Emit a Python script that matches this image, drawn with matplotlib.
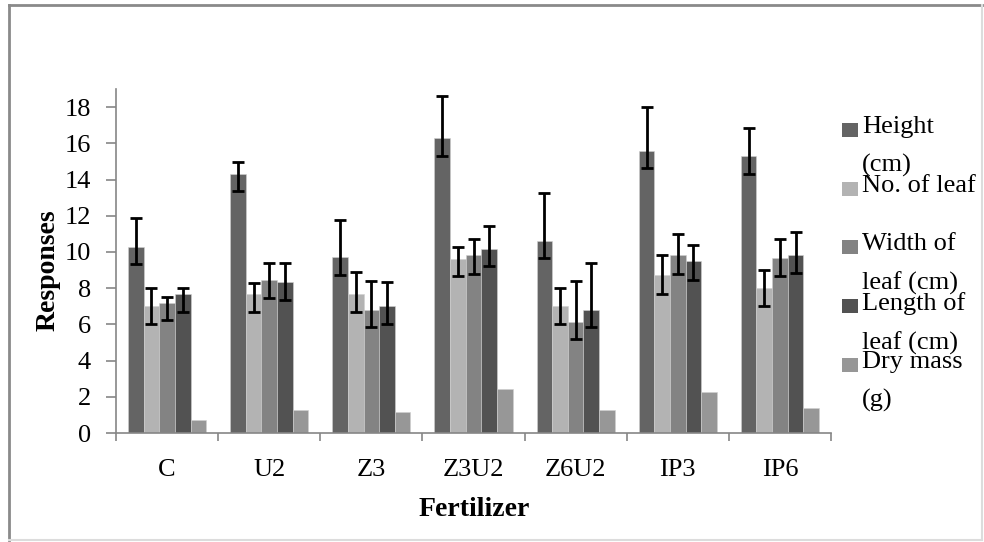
import matplotlib
matplotlib.use("Agg")
import matplotlib.pyplot as plt
from matplotlib.patches import Rectangle
from matplotlib.lines import Line2D
import numpy as np

plt.rcParams['font.family'] = ['Liberation Serif', 'DejaVu Serif']

fertilizers = ['C', 'U2', 'Z3', 'Z3U2', 'Z6U2', 'IP3', 'IP6']
series = ['Height\n(cm)', 'No. of leaf', 'Width of\nleaf (cm)', 'Length of\nleaf (cm)', 'Dry mass\n(g)']
colors = ['#646464', '#b3b3b3', '#838383', '#525252', '#979797']

# bar heights
height = [10.3, 14.3, 9.7, 16.3, 10.6, 15.6, 15.3]
leaves = [7.0, 7.7, 7.7, 9.6, 7.0, 8.7, 8.0]
width = [7.2, 8.45, 6.8, 9.85, 6.15, 9.85, 9.65]
length = [7.67, 8.33, 7.0, 10.17, 6.8, 9.5, 9.85]
dry = [0.74, 1.27, 1.16, 2.45, 1.27, 2.26, 1.4]

# error bar ends (lower, upper)
height_lo = [9.33, 13.34, 8.72, 15.31, 9.64, 14.66, 14.33]
height_hi = [11.87, 14.96, 11.78, 18.64, 13.23, 17.98, 16.84]
leaves_lo = [6.02, 6.68, 6.68, 8.65, 6.02, 7.67, 7.01]
leaves_hi = [8.0, 8.3, 8.87, 10.27, 8.02, 9.81, 9.0]
width_lo = [6.26, 7.45, 5.83, 8.79, 5.17, 8.79, 8.65]
width_hi = [7.49, 9.4, 8.41, 10.73, 8.41, 10.98, 10.71]
length_lo = [6.68, 7.34, 6.03, 9.2, 5.83, 8.46, 8.81]
length_hi = [8.0, 9.4, 8.35, 11.44, 9.4, 10.4, 11.11]

values = [height, leaves, width, length, dry]
lows = [height_lo, leaves_lo, width_lo, length_lo, None]
highs = [height_hi, leaves_hi, width_hi, length_hi, None]

fig = plt.figure(figsize=(9.84, 5.42), dpi=100)
ax = fig.add_axes([116/984, 1 - 433/542, (831-116)/984, 344/542])

x = np.arange(len(fertilizers))
bw = 0.153
for i, (vals, lo, hi) in enumerate(zip(values, lows, highs)):
    pos = x + (i - 2) * bw
    ax.bar(pos, vals, bw, color=colors[i], edgecolor='#d0d0d0', linewidth=0.4, zorder=2)
    if lo is not None:
        v = np.array(vals)
        yerr = [v - np.array(lo), np.array(hi) - v]
        ax.errorbar(pos, v, yerr=yerr, fmt='none', ecolor='black',
                    elinewidth=2, capsize=4, capthick=2, zorder=3)

ax.set_xlim(-0.5, len(fertilizers) - 0.5)
ax.set_ylim(0, 19)
ax.set_yticks(np.arange(0, 19, 2))
ax.set_xticks(np.arange(-0.5, len(fertilizers)), labels=[''] * (len(fertilizers) + 1))
ax.set_xticks(x, labels=fertilizers, minor=True)

for s in ['top', 'right']:
    ax.spines[s].set_visible(False)
for s in ['left', 'bottom']:
    ax.spines[s].set_color('#868686')
    ax.spines[s].set_linewidth(1.2)

ax.tick_params(axis='y', direction='out', length=7, width=1.2, color='#868686',
               labelsize=19, pad=11)
ax.tick_params(axis='x', which='major', direction='out', length=6, width=1.2, color='#868686')
ax.tick_params(axis='x', which='minor', length=0, labelsize=19, pad=19)

fig.text(474/984, 1 - 510/542, 'Fertilizer', ha='center', va='center',
         fontsize=20, fontweight='bold')
fig.text(48/984, 1 - 270/542, 'Responses', ha='center', va='center',
         rotation=90, fontsize=20, fontweight='bold')

# legend drawn by hand to mimic the overlapping Excel layout
for i, lab in enumerate(series):
    cy = 130 + i * 58.7
    fig.add_artist(Rectangle((842/984, 1 - (cy + 7)/542), 16/984, 14/542,
                             transform=fig.transFigure, facecolor=colors[i],
                             edgecolor='none'))
    fig.text(862/984, 1 - (cy - 14)/542, lab, ha='left', va='top',
             fontsize=19, linespacing=1.9)

# picture frame
fig.add_artist(Line2D([9/984, 9/984], [1 - 540/542, 1 - 5/542], transform=fig.transFigure,
                      color='#8a8a8a', lw=2))
fig.add_artist(Line2D([9/984, 982/984], [1 - 5/542, 1 - 5/542], transform=fig.transFigure,
                      color='#8a8a8a', lw=2))
fig.add_artist(Line2D([9/984, 982/984], [1 - 540/542, 1 - 540/542], transform=fig.transFigure,
                      color='#dcdcdc', lw=1.5))
fig.add_artist(Line2D([982/984, 982/984], [1 - 540/542, 1 - 5/542], transform=fig.transFigure,
                      color='#dcdcdc', lw=1.5))

fig.savefig('out.png', dpi=100)
